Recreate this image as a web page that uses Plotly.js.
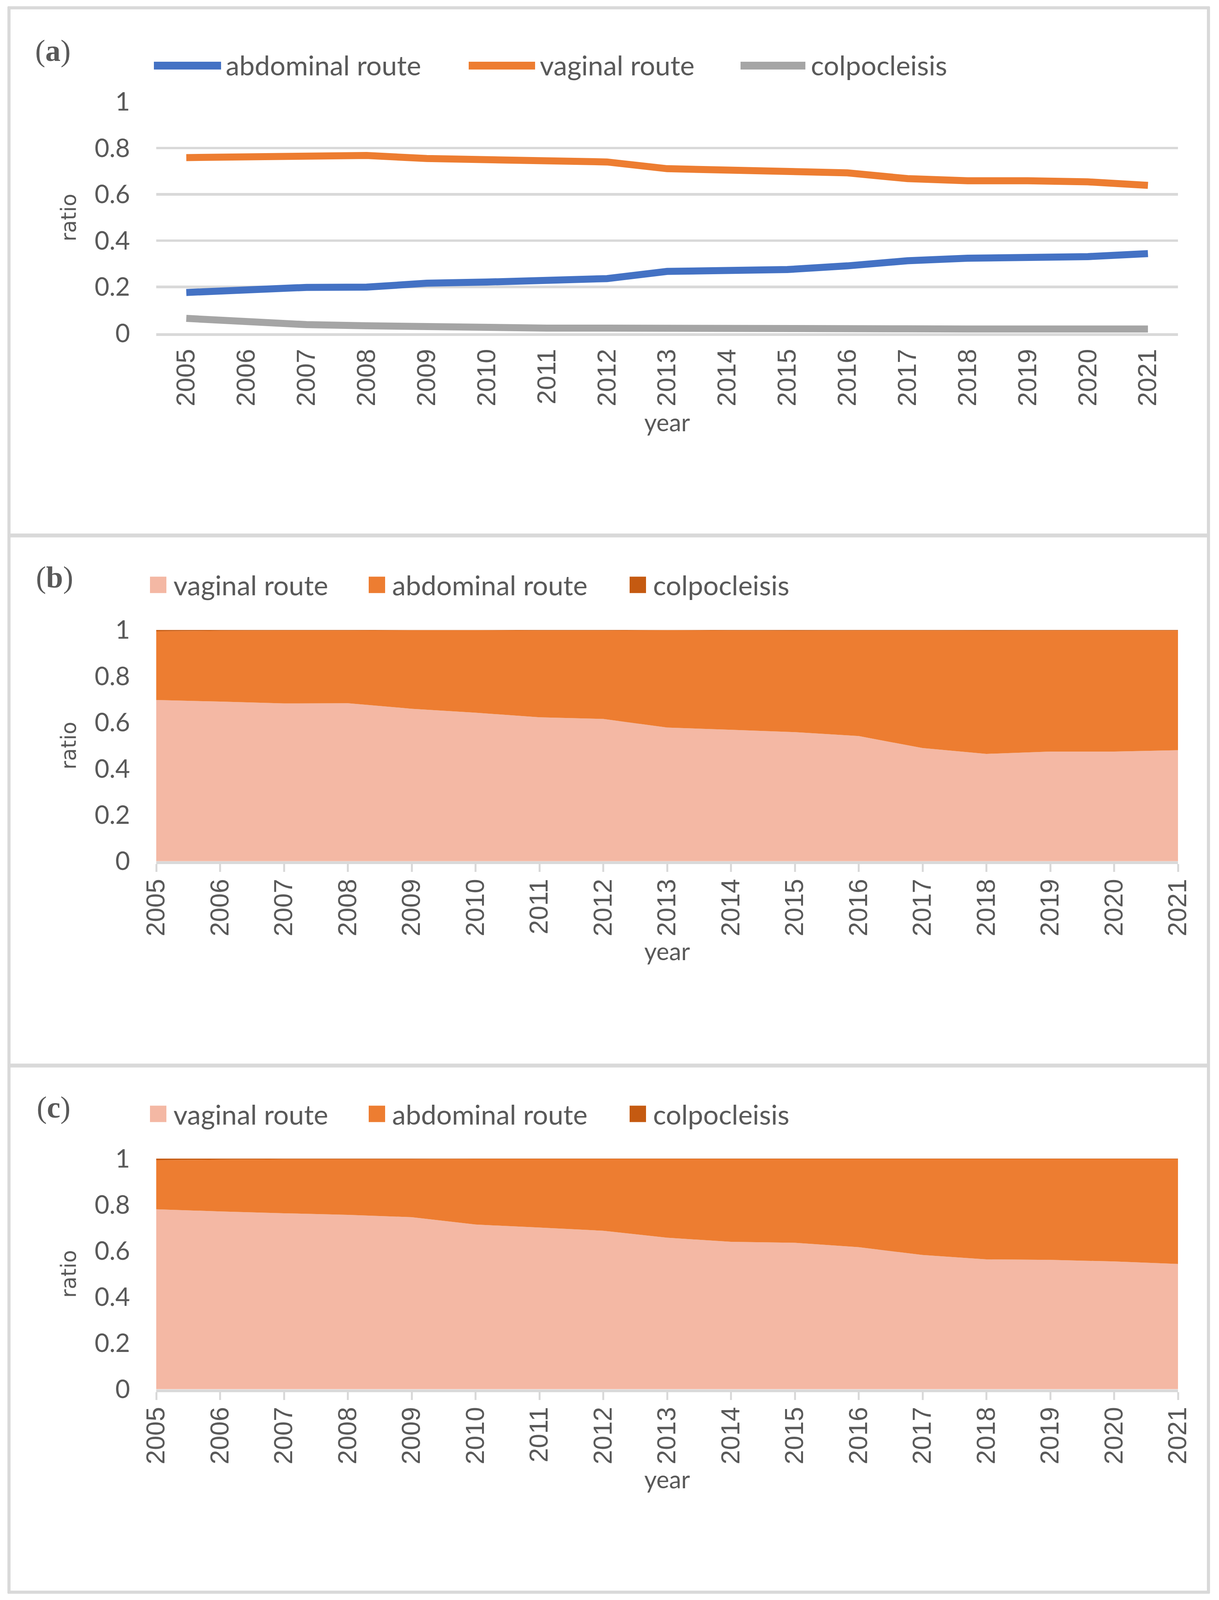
<!DOCTYPE html>
<html>
<head>
<meta charset="utf-8">
<script src="https://cdn.plot.ly/plotly-3.0.1.min.js"></script>
<style>html,body{margin:0;padding:0;background:#fff;overflow:hidden;}#chart{width:3121px;}</style>
</head>
<body>
<div id="chart"></div>
<script>
// ---------- data ----------
const years = ['2005','2006','2007','2008','2009','2010','2011','2012','2013','2014','2015','2016','2017','2018','2019','2020','2021'];

// panel (a): line chart
const aAbdominal = [0.176,0.187,0.198,0.199,0.216,0.221,0.232,0.236,0.267,0.274,0.275,0.291,0.313,0.324,0.326,0.331,0.344];
const aVaginal   = [0.759,0.761,0.765,0.768,0.755,0.752,0.747,0.740,0.711,0.705,0.705,0.693,0.668,0.659,0.659,0.654,0.639];
const aColpo     = [0.064,0.049,0.037,0.032,0.027,0.025,0.022,0.022,0.020,0.020,0.019,0.017,0.019,0.018,0.016,0.018,0.018];

// panel (b): 100% stacked area
const bVaginal   = [0.697,0.690,0.682,0.683,0.659,0.642,0.622,0.615,0.578,0.568,0.558,0.541,0.489,0.464,0.474,0.474,0.480];
const bAbdominal = [0.297,0.306,0.315,0.314,0.339,0.356,0.375,0.382,0.420,0.429,0.438,0.456,0.508,0.532,0.523,0.523,0.517];
const bColpo     = [0.006,0.004,0.003,0.003,0.002,0.002,0.003,0.003,0.002,0.003,0.004,0.003,0.003,0.004,0.003,0.003,0.003];

// panel (c): 100% stacked area
const cVaginal   = [0.780,0.771,0.763,0.756,0.746,0.714,0.701,0.687,0.657,0.639,0.635,0.616,0.582,0.563,0.561,0.554,0.543];
const cAbdominal = [0.213,0.224,0.234,0.241,0.251,0.284,0.297,0.311,0.341,0.359,0.363,0.382,0.416,0.435,0.437,0.444,0.455];
const cColpo     = [0.007,0.005,0.003,0.003,0.003,0.002,0.002,0.002,0.002,0.002,0.002,0.002,0.002,0.002,0.002,0.002,0.002];

const yTicks = [0,0.2,0.4,0.6,0.8,1];
const yTickText = ['0','0.2','0.4','0.6','0.8','1'];

// ---------- page geometry ----------
// Layout is designed on a 3121 x 4730 grid; the picture height is limited by the
// viewport, so vertical positions are expressed as fractions of the design height.
const W = 3121, H_REF = 4730;
const H = Math.min(H_REF, window.innerHeight || H_REF);
const k = H / H_REF;
document.getElementById('chart').style.height = H + 'px';

const TXT = '#595959', GRID = '#d9d9d9';
const C_BLUE = '#4472C4', C_ORANGE = '#ED7D31', C_GRAY = '#A5A5A5';
const C_PINK = '#F4B8A4', C_DARK = '#C55A11';
const fx = px => px / W;
const fy = px => 1 - px / H_REF;

const traces = [
  {x: years, y: aAbdominal, name: 'abdominal route', type: 'scatter', mode: 'lines', xaxis: 'x', yaxis: 'y', line: {color: C_BLUE, width: 18}},
  {x: years, y: aVaginal, name: 'vaginal route', type: 'scatter', mode: 'lines', xaxis: 'x', yaxis: 'y', line: {color: C_ORANGE, width: 18}},
  {x: years, y: aColpo, name: 'colpocleisis', type: 'scatter', mode: 'lines', xaxis: 'x', yaxis: 'y', line: {color: C_GRAY, width: 18}},

  {x: years, y: bVaginal, name: 'vaginal route', type: 'scatter', mode: 'none', stackgroup: 'b', fillcolor: C_PINK, xaxis: 'x2', yaxis: 'y2'},
  {x: years, y: bAbdominal, name: 'abdominal route', type: 'scatter', mode: 'none', stackgroup: 'b', fillcolor: C_ORANGE, xaxis: 'x2', yaxis: 'y2'},
  {x: years, y: bColpo, name: 'colpocleisis', type: 'scatter', mode: 'none', stackgroup: 'b', fillcolor: C_DARK, xaxis: 'x2', yaxis: 'y2'},

  {x: years, y: cVaginal, name: 'vaginal route', type: 'scatter', mode: 'none', stackgroup: 'c', fillcolor: C_PINK, xaxis: 'x3', yaxis: 'y3'},
  {x: years, y: cAbdominal, name: 'abdominal route', type: 'scatter', mode: 'none', stackgroup: 'c', fillcolor: C_ORANGE, xaxis: 'x3', yaxis: 'y3'},
  {x: years, y: cColpo, name: 'colpocleisis', type: 'scatter', mode: 'none', stackgroup: 'c', fillcolor: C_DARK, xaxis: 'x3', yaxis: 'y3'}
];

const plotL = 400, plotR = 3016;
const panels = [
  {top: 301, bottom: 985, edge: false, lab: Math.round(47 * k) - 34, tstand: 24 + Math.round((1 - k) * 0)},
  {top: 1862, bottom: 2546, edge: true, lab: Math.round(48 * k) - 50, tstand: 16},
  {top: 3425, bottom: 4107, edge: true, lab: Math.round(48 * k) - 50, tstand: 16}
];
if (k === 1) { panels[0].tstand = 52; panels[1].tstand = 46; panels[2].tstand = 46; }

const layout = {
  width: W, height: H, autosize: false,
  margin: {l: 0, r: 0, t: 0, b: 0, pad: 0},
  paper_bgcolor: '#fff', plot_bgcolor: '#fff',
  showlegend: false,
  shapes: [], annotations: []
};

panels.forEach((p, i) => {
  const sx = i === 0 ? '' : String(i + 1);
  layout['xaxis' + sx] = {
    domain: [fx(plotL), fx(plotR)],
    anchor: 'y' + sx,
    type: 'category',
    range: p.edge ? [0, 16] : [-0.5, 16.5],
    showgrid: false, zeroline: false,
    showline: true, linecolor: GRID, linewidth: 7,
    ticks: p.edge ? 'outside' : '', ticklen: 20, tickwidth: 5, tickcolor: GRID,
    tickangle: -90,
    ticklabelstandoff: p.lab,
    tickfont: {family: 'Liberation Sans', size: 66, color: TXT},
    title: {text: 'year', font: {family: 'Lato', size: 62, color: TXT}, standoff: p.tstand},
    fixedrange: true
  };
  layout['yaxis' + sx] = {
    domain: [fy(p.bottom), fy(p.top)],
    anchor: 'x' + sx,
    range: [0, 1],
    tickvals: yTicks, ticktext: yTickText,
    showgrid: true, gridcolor: GRID, gridwidth: 6.5,
    zeroline: false, showline: false, ticks: '',
    ticklabelstandoff: 66,
    tickfont: {family: 'Lato', size: 65, color: TXT},
    title: {text: 'ratio', font: {family: 'DejaVu Sans', size: 53, color: TXT}, standoff: 30},
    fixedrange: true
  };
});

// frame
const frame = {type: 'line', xref: 'paper', yref: 'paper', line: {color: GRID, width: 8}};
layout.shapes.push(Object.assign({}, frame, {x0: fx(23), x1: fx(23), y0: fy(20), y1: fy(4710)}));
layout.shapes.push(Object.assign({}, frame, {x0: fx(3094), x1: fx(3094), y0: fy(20), y1: fy(4710)}));
layout.shapes.push(Object.assign({}, frame, {x0: fx(20), x1: fx(3097), y0: fy(23), y1: fy(23)}));
layout.shapes.push(Object.assign({}, frame, {x0: fx(20), x1: fx(3097), y0: fy(4707), y1: fy(4707)}));
layout.shapes.push(Object.assign({}, frame, {x0: fx(20), x1: fx(3097), y0: fy(1583), y1: fy(1583), line: {color: GRID, width: 10}}));
layout.shapes.push(Object.assign({}, frame, {x0: fx(20), x1: fx(3097), y0: fy(3150), y1: fy(3150), line: {color: GRID, width: 10}}));

// legends (drawn manually so the symbols match the reference size)
const legFont = {family: 'Lato', size: 70, color: TXT};
function legText(x, y, t) {
  layout.annotations.push({xref: 'paper', yref: 'paper', x: fx(x), y: fy(y), xanchor: 'left', yanchor: 'middle', showarrow: false, text: t, font: legFont});
}
// panel a
[[394, 566, C_BLUE, 576, 'abdominal route'], [1200, 1370, C_ORANGE, 1380, 'vaginal route'], [1896, 2062, C_GRAY, 2074, 'colpocleisis']].forEach(e => {
  layout.shapes.push({type: 'line', xref: 'paper', yref: 'paper', x0: fx(e[0]), x1: fx(e[1]), y0: fy(194), y1: fy(194), line: {color: e[2], width: 20}});
  legText(e[3], 192, e[4]);
});
// panels b and c
[1729, 3293].forEach(yc => {
  [[384, C_PINK, 442, 'vaginal route'], [944, C_ORANGE, 1002, 'abdominal route'], [1612, C_DARK, 1670, 'colpocleisis']].forEach(e => {
    const half = 21 / H;
    layout.shapes.push({type: 'rect', xref: 'paper', yref: 'paper', x0: fx(e[0]), x1: fx(e[0] + 42), y0: fy(yc) - half, y1: fy(yc) + half, line: {width: 0}, fillcolor: e[1]});
    legText(e[2], yc, e[3]);
  });
});

// panel letters
const letterFont = {family: 'Liberation Serif', size: 78, color: TXT};
[['a', 88, 150], ['b', 90, 1706], ['c', 92, 3273]].forEach(l => {
  layout.annotations.push({xref: 'paper', yref: 'paper', x: fx(l[1]), y: fy(l[2]), xanchor: 'left', yanchor: 'middle', showarrow: false, text: '(<b>' + l[0] + '</b>)', font: letterFont});
});

Plotly.newPlot('chart', traces, layout, {displayModeBar: false, staticPlot: true});
</script>
</body>
</html>
